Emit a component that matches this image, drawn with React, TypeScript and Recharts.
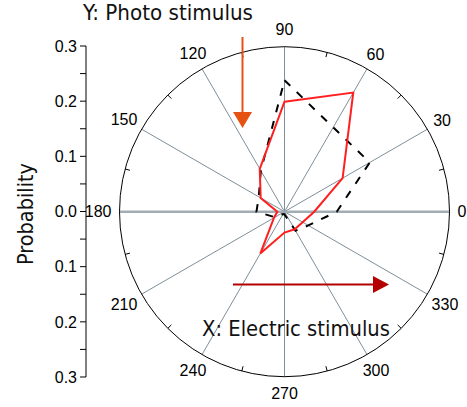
import { RadarChart, Radar, PolarGrid, PolarAngleAxis, PolarRadiusAxis, LineChart, Line, XAxis, YAxis } from "recharts";

// polar angles (deg) and the two response curves (probability)
const angles = [0, 30, 60, 90, 120, 150, 180, 210, 240, 270, 300, 330];
const solidValues = [0.054, 0.122, 0.25, 0.2, 0.09, 0.05, 0.013, 0.022, 0.088, 0.038, 0.037, 0.038];
const dashedValues = [0.095, 0.179, 0.177, 0.239, 0.086, 0.054, 0.051, 0.02, 0.005, 0.005, 0.04, 0.05];
const minorAngles = [15, 45, 75, 105, 135, 165, 195, 225, 255, 285, 315, 345];
const probTicks = [-0.3, -0.25, -0.2, -0.15, -0.1, -0.05, 0, 0.05, 0.1, 0.15, 0.2, 0.25, 0.3];

const CX = 284.5;
const CY = 211.7;
const R = 165;
const LABEL_FONT = "'Liberation Sans', Arial, sans-serif";
const TITLE_FONT = "'Liberation Sans Narrow', 'DejaVu Sans Condensed', 'Liberation Sans', sans-serif";

// radar goes clockwise from the top, so start at 90 and walk downwards
const rows = angles
  .map((_, k) => (3 - k + angles.length) % angles.length)
  .map((i) => ({ angle: angles[i], solid: solidValues[i], dashed: dashedValues[i] }));

function AngleTick(props: any) {
  const { x, y, payload } = props;
  const dx = x - CX;
  const dy = y - CY;
  const len = Math.hypot(dx, dy) || 1;
  const c = dx / len;
  const s = dy / len;
  const label = String(payload.value);
  const hw = label.length * 4.45;
  const r = R + 8 + hw * c * c + 9 * s * s;
  return (
    <text x={CX + c * r} y={CY + s * r} textAnchor="middle" dominantBaseline="central"
      fontSize={16} fontFamily={LABEL_FONT} fill="#000">
      {label}
    </text>
  );
}

function formatProb(v: number): string {
  const a = Math.round(Math.abs(v) * 100);
  if (a % 10 === 5) return "";
  return (a / 100).toFixed(1);
}

// small inward ticks on the outer circle between the labelled spokes
function MinorTicks() {
  return (
    <g>
      {minorAngles.map((a) => {
        const t = (-a * Math.PI) / 180;
        return (
          <line key={a} x1={CX + Math.cos(t) * R} y1={CY + Math.sin(t) * R}
            x2={CX + Math.cos(t) * (R - 5)} y2={CY + Math.sin(t) * (R - 5)} stroke="#000" strokeWidth={1} />
        );
      })}
    </g>
  );
}

export default function App() {
  return (
    <div style={{ position: "absolute", left: 0, top: 0, width: 467, height: 407, background: "#fff" }}>
      <div style={{ position: "absolute", left: 0, top: 0 }}>
        <RadarChart width={467} height={407} data={rows} cx={CX} cy={CY} outerRadius={R}
          margin={{ top: 0, right: 0, bottom: 0, left: 0 }}>
          <PolarGrid gridType="circle" polarRadius={[]} stroke="#7f8f99" strokeWidth={1} />
          <PolarGrid gridType="circle" polarRadius={[]} polarAngles={[0, 180]} stroke="#a2adb3" strokeWidth={2.5} />
          <PolarAngleAxis dataKey="angle" tick={<AngleTick />} tickLine={false}
            axisLineType="circle" stroke="#000" />
          <PolarRadiusAxis type="number" domain={[0, 0.3]} tick={false} axisLine={false} />
          <Radar dataKey="dashed" stroke="#000" strokeWidth={2} strokeDasharray="8 9"
            fill="none" fillOpacity={0} dot={false} isAnimationActive={false} />
          <Radar dataKey="solid" stroke="#ff1f1f" strokeWidth={2}
            fill="none" fillOpacity={0} dot={false} isAnimationActive={false} />
        </RadarChart>
      </div>
      <div style={{ position: "absolute", left: 0, top: 0 }}>
        <LineChart width={100} height={407} data={rows} margin={{ top: 46, bottom: 30, left: 0, right: 0 }}>
          <XAxis dataKey="angle" hide />
          <YAxis type="number" domain={[-0.3, 0.3]} ticks={probTicks} interval={0} width={86}
            tickSize={6} tickMargin={3} tickFormatter={formatProb} stroke="#000"
            tick={{ fill: "#000", fontSize: 16, fontFamily: LABEL_FONT }} />
          <Line dataKey="solid" stroke="none" dot={false} activeDot={false} isAnimationActive={false} />
        </LineChart>
      </div>
      <svg width={467} height={407} style={{ position: "absolute", left: 0, top: 0, pointerEvents: "none" }}>
        <MinorTicks />
        <text x={83} y={20} fontSize={22} fontFamily={TITLE_FONT} fill="#111" textLength={170}
          lengthAdjust="spacingAndGlyphs">Y: Photo stimulus</text>
        <text x={202} y={336} fontSize={22} fontFamily={TITLE_FONT} fill="#111" textLength={188}
          lengthAdjust="spacingAndGlyphs">X: Electric stimulus</text>
        <text transform="translate(33,214) rotate(-90)" textAnchor="middle" fontSize={22}
          fontFamily={TITLE_FONT} fill="#111" textLength={102} lengthAdjust="spacingAndGlyphs">Probability</text>
        <line x1={242.5} y1={37} x2={242.5} y2={114} stroke="#e65212" strokeWidth={2} />
        <polygon points="233,112 252,112 242.5,128" fill="#e65212" />
        <line x1={233} y1={284.5} x2={375} y2={284.5} stroke="#b50000" strokeWidth={2.2} />
        <polygon points="373,276 373,293 389,284.5" fill="#b50000" />
      </svg>
    </div>
  );
}
